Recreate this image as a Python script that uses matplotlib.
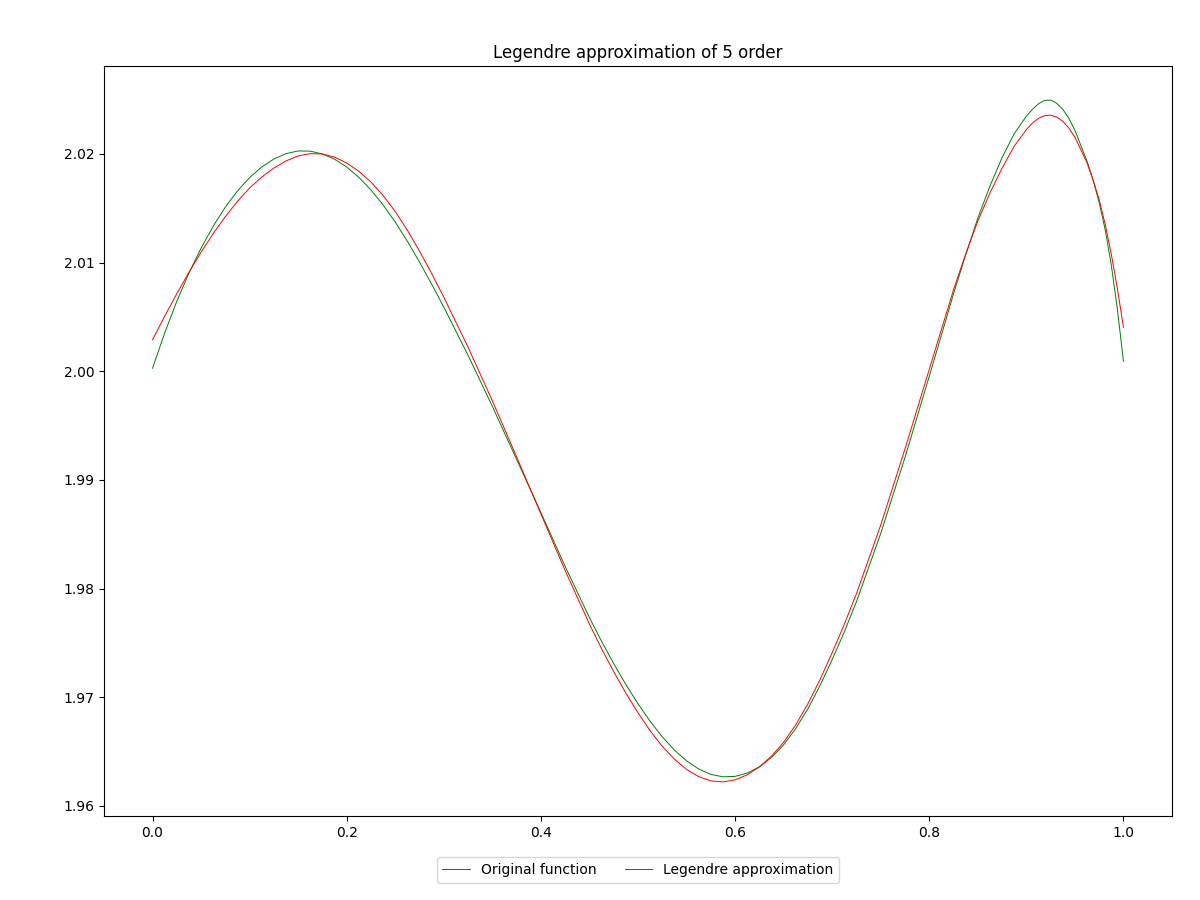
import matplotlib
matplotlib.use("Agg")
import matplotlib.pyplot as plt

x_vals = [0.000, 0.0125, 0.025, 0.0375, 0.050, 0.0625, 0.075, 0.0875, 0.100, 0.1125,
          0.125, 0.1375, 0.150, 0.1625, 0.175, 0.1875, 0.200, 0.2125, 0.225, 0.2375,
          0.250, 0.2625, 0.275, 0.2875, 0.300, 0.325, 0.350, 0.375, 0.400, 0.425,
          0.450, 0.4625, 0.475, 0.4875, 0.500, 0.5125, 0.525, 0.5375, 0.550, 0.5625,
          0.575, 0.5875, 0.600, 0.6125, 0.625, 0.6375, 0.650, 0.6625, 0.675, 0.6875,
          0.700, 0.7125, 0.725, 0.750, 0.775, 0.800, 0.825, 0.8375, 0.850, 0.8625,
          0.875, 0.8875, 0.900, 0.90625, 0.9125, 0.91875, 0.925, 0.93125, 0.9375, 0.94375,
          0.950, 0.9625, 0.96875, 0.975, 0.98125, 0.9875, 0.99375, 1.000]

original = [2.00028, 2.00353, 2.00645, 2.00904, 2.01134, 2.01336, 2.01512, 2.01660, 2.01783, 2.01881,
            2.01954, 2.02003, 2.02028, 2.02026, 2.02000, 2.01952, 2.01880, 2.01785, 2.01668, 2.01531,
            2.01373, 2.01196, 2.01005, 2.00802, 2.00590, 2.00147, 1.99677, 1.99189, 1.98700, 1.98203,
            1.97733, 1.97514, 1.97309, 1.97117, 1.96940, 1.96779, 1.96636, 1.96514, 1.96415, 1.96340,
            1.96290, 1.96268, 1.96272, 1.96302, 1.96359, 1.96446, 1.96562, 1.96712, 1.96894, 1.97107,
            1.97346, 1.97602, 1.97880, 1.98507, 1.99207, 1.99954, 2.00714, 2.01071, 2.01410, 2.01705,
            2.01967, 2.02187, 2.02348, 2.02411, 2.02462, 2.02493, 2.02496, 2.02467, 2.02412, 2.02329,
            2.02218, 2.01933, 2.01760, 2.01553, 2.01300, 2.00977, 2.00571, 2.00092]

legendre = [2.00290, 2.00507, 2.00714, 2.00912, 2.01097, 2.01268, 2.01424, 2.01564, 2.01687, 2.01788,
            2.01871, 2.01936, 2.01982, 2.02003, 2.02000, 2.01971, 2.01917, 2.01841, 2.01742, 2.01618,
            2.01470, 2.01298, 2.01106, 2.00900, 2.00682, 2.00221, 1.99728, 1.99212, 1.98687, 1.98166,
            1.97673, 1.97446, 1.97235, 1.97038, 1.96857, 1.96692, 1.96548, 1.96430, 1.96336, 1.96270,
            1.96230, 1.96221, 1.96240, 1.96286, 1.96359, 1.96458, 1.96585, 1.96747, 1.96940, 1.97163,
            1.97410, 1.97672, 1.97954, 1.98585, 1.99286, 2.00018, 2.00751, 2.01080, 2.01382, 2.01641,
            2.01870, 2.02072, 2.02224, 2.02285, 2.02328, 2.02353, 2.02358, 2.02340, 2.02301, 2.02239,
            2.02154, 2.01919, 2.01760, 2.01579, 2.01350, 2.01077, 2.00761, 2.00406]

title = "Legendre approximation of 5 order"
labels = ["Original function", "Legendre approximation"]

fig = plt.figure(figsize=(12, 9), dpi=100)
ax = fig.add_subplot(111)
fig.subplots_adjust(left=104/1200, right=1172/1200, top=1-66/900, bottom=1-816/900)

ax.plot(x_vals, original, color="green", lw=0.7, label=labels[0])
ax.plot(x_vals, legendre, color="red", lw=0.7, label=labels[1])
ax.set_title(title)
ax.legend(loc="upper center", bbox_to_anchor=(0.5, -0.046), ncol=2)

fig.savefig("out.png", dpi=100)
